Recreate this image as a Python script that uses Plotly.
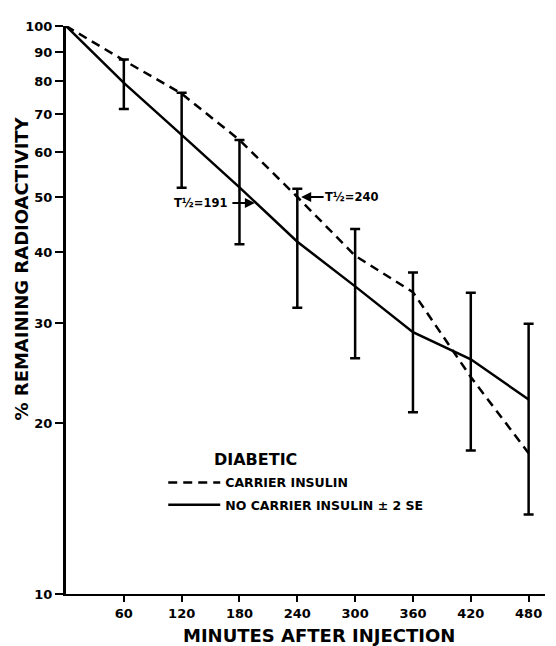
import math
import plotly.graph_objects as go

minutes = [0, 60, 120, 180, 240, 300, 360, 420, 480]
carrier = [100, 87, 76, 63, 50, 39.4, 34, 24.1, 17.7]
no_carrier = [100, 79.4, 64.3, 52, 41.7, 34.8, 28.9, 25.9, 22.0]
err_minutes = [60, 120, 180, 240, 300, 360, 420, 480]
err_upper = [87.3, 76.3, 63, 51.7, 43.9, 36.8, 33.9, 29.9]
err_lower = [71.4, 51.9, 41.3, 31.9, 26.0, 20.9, 17.9, 13.8]
y_ticks = [10, 20, 30, 40, 50, 60, 70, 80, 90, 100]
x_ticks = [60, 120, 180, 240, 300, 360, 420, 480]
half_life_no_carrier = 191
half_life_carrier = 240

FONT = "DejaVu Sans"
sol_at_err = no_carrier[1:]

fig = go.Figure()
fig.add_trace(go.Scatter(
    x=minutes, y=carrier, mode="lines", name="CARRIER INSULIN",
    line=dict(color="black", width=2.5, dash="9px,6px"), legendgroup="a"))
fig.add_trace(go.Scatter(
    x=minutes, y=no_carrier, mode="lines", name="NO CARRIER INSULIN ± 2 SE",
    line=dict(color="black", width=2.5), legendgroup="b"))
fig.add_trace(go.Scatter(
    x=err_minutes, y=sol_at_err, mode="markers", showlegend=False,
    marker=dict(size=1, color="rgba(0,0,0,0)"),
    error_y=dict(type="data", symmetric=False,
                 array=[u - s for u, s in zip(err_upper, sol_at_err)],
                 arrayminus=[s - l for s, l in zip(sol_at_err, err_lower)],
                 color="black", thickness=2.5, width=5)))

# page body has an 8px margin, so the figure is 8px smaller
fig.update_layout(
    width=548, height=638,
    margin=dict(l=58, r=11, t=14, b=52),
    paper_bgcolor="white", plot_bgcolor="white",
    font=dict(family=FONT, color="black", size=12, weight="bold"),
    xaxis=dict(range=[0, 497], tickvals=x_ticks, ticktext=[str(v) for v in x_ticks],
               ticks="outside", ticklen=6, tickwidth=2, tickcolor="black",
               showline=True, linewidth=2, linecolor="black",
               showgrid=False, zeroline=False,
               tickfont=dict(family=FONT, size=13, weight="bold")),
    yaxis=dict(type="log", range=[1, 2], tickvals=y_ticks, ticktext=[str(v) for v in y_ticks],
               ticks="outside", ticklen=8, tickwidth=2, tickcolor="black",
               showline=True, linewidth=3, linecolor="black",
               showgrid=False, zeroline=False,
               tickfont=dict(family=FONT, size=13, weight="bold")),
    showlegend=True,
    legend=dict(x=0.203, y=0.222, xanchor="left", yanchor="top",
                bgcolor="rgba(0,0,0,0)", borderwidth=0, itemwidth=52,
                tracegroupgap=3,
                font=dict(family=FONT, size=12.5, weight="bold", color="black")),
)

ann = []
ann.append(dict(text="% REMAINING RADIOACTIVITY", xref="paper", yref="paper",
                x=-0.0919, y=0.573, xanchor="center", yanchor="middle",
                textangle=-90, showarrow=False,
                font=dict(family=FONT, size=18, weight="bold")))
ann.append(dict(text="MINUTES AFTER INJECTION", xref="paper", yref="paper",
                x=0.529, y=-0.0734, xanchor="center", yanchor="middle", showarrow=False,
                font=dict(family=FONT, size=18, weight="bold")))
ann.append(dict(text="DIABETIC", xref="paper", yref="paper",
                x=0.3946, y=0.236, xanchor="center", yanchor="middle", showarrow=False,
                font=dict(family=FONT, size=16, weight="bold")))
# T1/2 annotations (log axis: y in log10 units)
y191 = math.log10(48.8)
y240 = math.log10(50.0)
ann.append(dict(text="", x=196, y=y191, ax=-24, ay=0, showarrow=True,
                arrowhead=2, arrowsize=1, arrowwidth=2, arrowcolor="black"))
ann.append(dict(text="T½=%d" % half_life_no_carrier, x=169, y=y191,
                xanchor="right", yanchor="middle", showarrow=False,
                font=dict(family=FONT, size=11.5, weight="bold")))
ann.append(dict(text="", x=244, y=y240, ax=24, ay=0, showarrow=True,
                arrowhead=2, arrowsize=1, arrowwidth=2, arrowcolor="black"))
ann.append(dict(text="T½=%d" % half_life_carrier, x=267, y=y240,
                xanchor="left", yanchor="middle", showarrow=False,
                font=dict(family=FONT, size=11.5, weight="bold")))
fig.update_layout(annotations=ann)

fig.write_html("out.html")
